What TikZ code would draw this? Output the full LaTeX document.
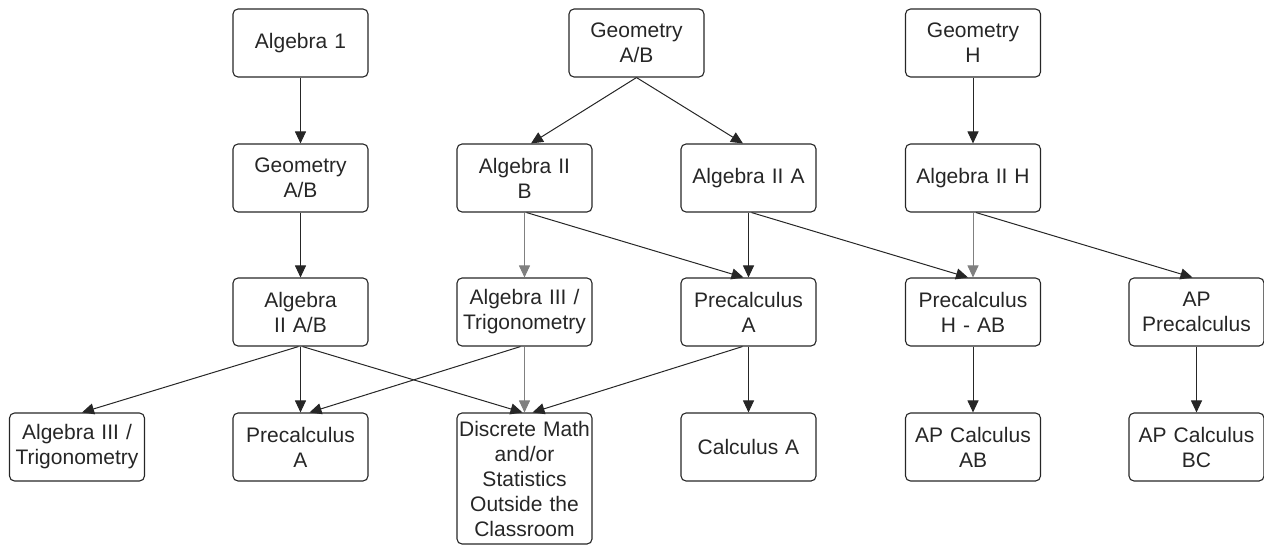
\documentclass[tikz,border=0pt]{standalone}
\usepackage{fontspec}
\setmainfont{Liberation Sans}
\usetikzlibrary{arrows.meta}
\begin{document}
\begin{tikzpicture}[x=1pt,y=-1pt,
  box/.style={draw=black!85, line width=1.1pt, rounded corners=5pt,
    minimum width=135pt, minimum height=68pt, inner sep=0pt, align=center,
    text width=134pt, font=\fontsize{21}{25}\selectfont, text=black!85},
  arr/.style={-{Triangle[length=12pt,width=11pt]}, line width=1pt, draw=black!85},
  garr/.style={arr, draw=black!50}]
\useasboundingbox (0,0) rectangle (1264,546);
% row 1
\node[box] (alg1)  at (300.5,43) {Algebra 1};
\node[box] (geoT)  at (636.5,43) {Geometry\\A/B};
\node[box] (geoH)  at (973,43)   {Geometry\\H};
% row 2
\node[box] (geoAB) at (300.5,178) {Geometry\\A/B};
\node[box] (a2B)   at (524.5,178) {Algebra II\\B};
\node[box] (a2A)   at (748.5,178) {Algebra II A};
\node[box] (a2H)   at (973,178)   {Algebra II H};
% row 3
\node[box] (a2AB)  at (300.5,312) {Algebra\\II A/B};
\node[box] (a3T)   at (524.5,312) {Algebra III /\\Trigonometry};
\node[box] (pcA)   at (748.5,312) {Precalculus\\A};
\node[box] (pcH)   at (973,312)   {Precalculus\\H - AB};
\node[box] (apPc)  at (1196.5,312) {AP\\Precalculus};
% row 4
\node[box] (a3T2)  at (77,447)    {Algebra III /\\Trigonometry};
\node[box] (pcA2)  at (300.5,447) {Precalculus\\A};
\node[box, minimum height=131pt] (disc) at (524.5,478.5) {Discrete Math\\and/or\\Statistics\\Outside the\\Classroom};
\node[box] (calcA) at (748.5,447) {Calculus A};
\node[box] (apAB)  at (973,447)   {AP Calculus\\AB};
\node[box] (apBC)  at (1196.5,447) {AP Calculus\\BC};
% connectors
\draw[arr] (alg1.south) -- (geoAB.north);
\draw[arr] (geoT.south) -- ([xshift=6.5pt]a2B.north);
\draw[arr] (geoT.south) -- ([xshift=-5.5pt]a2A.north);
\draw[arr] (geoH.south) -- (a2H.north);
\draw[arr] (geoAB.south) -- (a2AB.north);
\draw[garr] (a2B.south) -- (a3T.north);
\draw[arr] ([xshift=2pt]a2B.south) -- ([xshift=-5pt]pcA.north);
\draw[arr] (a2A.south) -- (pcA.north);
\draw[arr] ([xshift=3pt]a2A.south) -- ([xshift=-5pt]pcH.north);
\draw[garr] (a2H.south) -- (pcH.north);
\draw[arr] ([xshift=3pt]a2H.south) -- ([xshift=-4pt]apPc.north);
\draw[arr] ([xshift=-2pt]a2AB.south) -- ([xshift=5pt]a3T2.north);
\draw[arr] (a2AB.south) -- (pcA2.north);
\draw[arr] ([xshift=2pt]a2AB.south) -- ([xshift=-2pt]disc.north);
\draw[arr] ([xshift=-4pt]a3T.south) -- ([xshift=9pt]pcA2.north);
\draw[garr] (a3T.south) -- (disc.north);
\draw[arr] ([xshift=-6pt]pcA.south) -- ([xshift=8pt]disc.north);
\draw[arr] (pcA.south) -- (calcA.north);
\draw[arr] (pcH.south) -- (apAB.north);
\draw[arr] (apPc.south) -- (apBC.north);
\end{tikzpicture}
\end{document}
